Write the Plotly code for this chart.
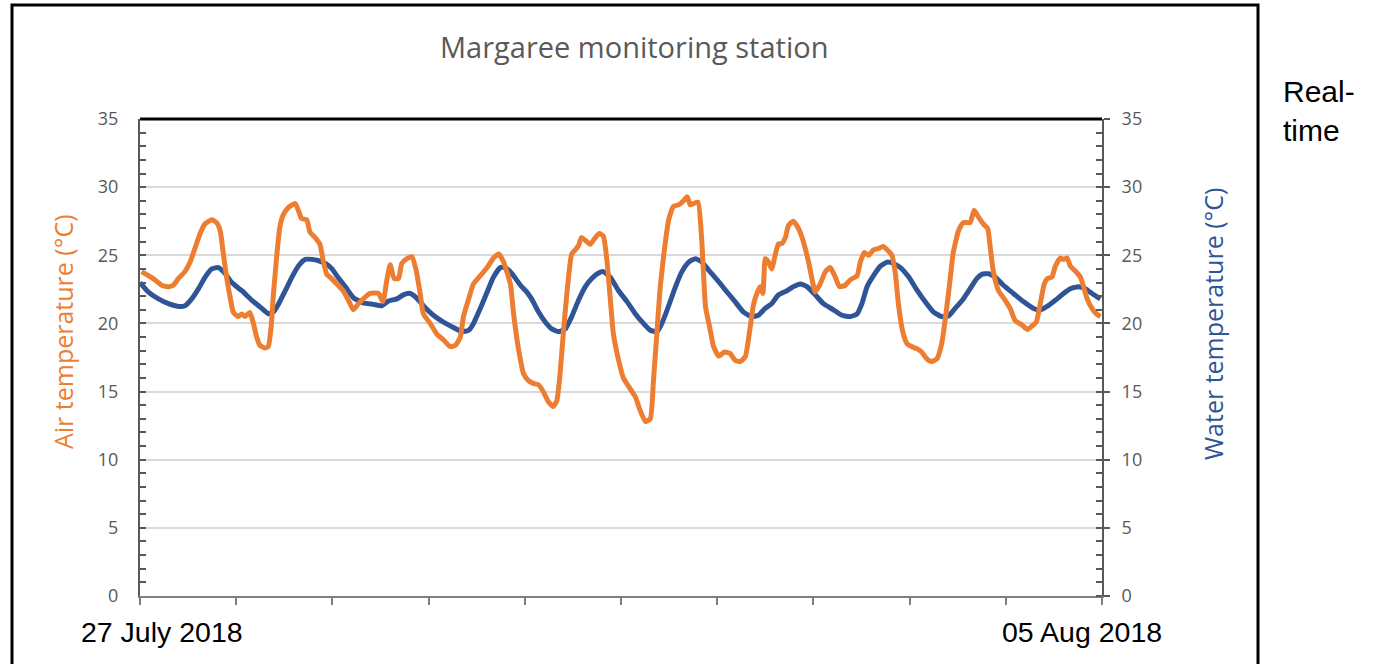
import pandas as pd
import plotly.graph_objects as go

# ---- data (hours since 27 July 2018 00:00, temperature in °C) ----
air_hours = [0.4, 2.1, 3.7, 5.4, 7.1, 8.3, 9.6, 11.2, 12.5, 13.7, 15.0, 16.2, 17.9, 19.1, 20.0, 20.8,
             21.6, 22.5, 23.3, 24.5, 25.4, 26.2, 27.4, 28.3, 29.1, 29.9, 31.2, 32.0, 32.7, 33.3, 34.1,
             34.9, 35.8, 37.0, 38.7, 39.5, 40.3, 41.6, 42.4, 43.7, 44.9, 45.7, 46.6, 47.4, 49.1, 50.7,
             52.0, 53.2, 54.5, 55.7, 57.4, 59.5, 60.6, 61.6, 62.4, 63.4, 64.5, 65.3, 66.6, 67.8, 68.9,
             69.9, 70.7, 72.4, 74.1, 75.7, 77.4, 78.7, 79.9, 80.7, 82.0, 83.2, 84.9, 86.6, 88.2, 89.5,
             90.7, 92.4, 93.2, 94.5, 95.7, 96.9, 98.1, 99.4, 100.6, 101.9, 103.1, 104.0, 104.8, 105.6,
             106.5, 107.7, 108.6, 109.4, 110.1, 111.1, 112.3, 113.6, 114.6, 115.6, 116.5, 117.3, 118.1,
             119.4, 120.6, 122.3, 123.6, 124.8, 126.1, 127.3, 128.1, 129.0, 129.8, 130.9, 131.9, 133.1,
             134.4, 135.6, 136.5, 137.3, 138.1, 139.2, 140.1, 141.1, 142.1, 143.1, 144.4, 145.8, 147.2,
             148.45, 149.7, 151.0, 152.0, 153.0, 153.9, 154.7, 155.4, 156.0, 156.8, 157.6, 158.45,
             159.3, 160.1, 161.0, 161.8, 163.0, 164.3, 165.5, 166.8, 167.9, 168.45, 169.7, 171.0,
             172.2, 173.45, 174.5, 175.95, 177.2, 178.9, 179.7, 180.7, 181.8, 183.0, 184.3, 185.4,
             186.4, 187.6, 188.45, 189.3, 190.4, 191.4, 192.5, 193.8, 195.0, 196.3, 197.5, 198.8,
             200.0, 200.85, 201.9, 202.9, 204.2, 205.4, 207.1, 208.1, 209.2, 210.4, 211.5, 212.1,
             212.9, 214.2, 215.85, 217.1, 218.35, 220.0, 221.4, 222.5, 223.6, 224.6, 225.6, 226.4,
             227.5, 228.35, 229.6, 230.4, 231.3, 232.1, 233.35, 234.6, 235.4, 236.3, 237.5, 238.6, 239.6]
air_temp = [23.8, 23.5, 23.2, 22.8, 22.7, 22.8, 23.3, 23.8, 24.5, 25.5, 26.6, 27.3, 27.6, 27.4, 26.8, 25.1,
            23.4, 21.9, 20.8, 20.5, 20.7, 20.5, 20.8, 20.0, 19.0, 18.4, 18.2, 18.3, 19.7, 22.2, 24.9,
            27.1, 28.0, 28.5, 28.8, 28.3, 27.7, 27.6, 26.7, 26.3, 25.8, 24.6, 23.6, 23.4, 22.9, 22.4,
            21.7, 21.0, 21.45, 21.8, 22.2, 22.2, 21.6, 23.2, 24.3, 23.3, 23.3, 24.4, 24.75, 24.9, 23.9,
            22.2, 20.7, 20.0, 19.2, 18.8, 18.3, 18.4, 19.0, 20.5, 21.8, 22.9, 23.5, 24.1, 24.8, 25.1,
            24.5, 22.9, 20.7, 18.0, 16.3, 15.8, 15.6, 15.5, 15.0, 14.25, 13.9, 14.35, 16.3, 19.25,
            22.2, 25.1, 25.4, 25.7, 26.3, 26.1, 25.8, 26.3, 26.6, 26.4, 24.6, 21.9, 19.25,
            17.3, 16.0, 15.2, 14.6, 13.6, 12.8, 13.0, 15.8, 19.5, 22.7, 25.6, 27.6, 28.6,
            28.7, 29.0, 29.3, 28.7, 28.8, 28.9, 26.3, 21.2, 19.75, 18.3, 17.6, 17.9, 17.8,
            17.3, 17.2, 17.55, 19.25, 21.3, 22.2, 22.7, 22.2, 24.75, 24.5, 24.0, 25.0,
            25.85, 25.85, 26.3, 27.2, 27.5, 26.95, 26.0, 24.5, 22.9, 22.3, 22.9, 23.8,
            24.1, 23.4, 22.7, 22.8, 23.2, 23.5, 24.5, 25.2, 25.0, 25.4, 25.5, 25.65,
            25.4, 25.0, 23.65, 21.2, 19.25, 18.5, 18.3, 18.15, 17.9, 17.4, 17.2, 17.4,
            18.5, 20.2, 22.7, 25.2, 26.8, 27.4, 27.4, 28.3, 27.8, 27.3, 26.95, 25.6,
            23.8, 22.4, 21.7, 21.1, 20.2, 19.9, 19.55, 19.8, 20.1, 21.45, 22.9, 23.3,
            23.4, 24.2, 24.8, 24.7, 24.8, 24.2, 23.85, 23.4, 22.7, 21.8, 21.1, 20.7, 20.5]

water_hours = [0.0, 2.1, 4.6, 7.1, 9.6, 11.25, 12.9, 14.6, 16.25, 17.9, 19.6, 21.25, 22.9, 25.4, 27.9,
               30.0, 32.1, 33.3, 34.6, 36.25, 37.9, 39.6, 41.25, 42.9, 44.6, 46.25, 47.9, 49.1, 51.2,
               53.2, 55.7, 58.2, 60.3, 62.0, 64.1, 65.7, 67.4, 68.9, 70.7, 73.2, 75.7, 78.2, 80.3,
               82.0, 83.2, 84.9, 86.6, 88.2, 89.9, 91.1, 92.8, 94.9, 96.5, 97.7, 99.4, 101.1, 102.7,
               104.4, 106.1, 107.7, 109.4, 111.1, 112.7, 114.4, 115.6, 117.3, 119.4, 121.5, 123.6,
               125.6, 127.3, 129.0, 130.2, 131.9, 133.6, 135.2, 136.9, 138.6, 140.2, 141.9, 144.0,
               145.9, 148.45, 150.5, 152.6, 154.3, 155.95, 157.6, 159.3, 161.4, 163.0, 164.7, 166.4,
               168.45, 170.5, 173.0, 175.1, 177.2, 178.9, 180.1, 181.4, 183.0, 184.7, 186.4, 188.0,
               189.7, 191.8, 193.6, 195.85, 197.9, 200.0, 201.7, 203.35, 205.4, 207.1, 208.8, 210.0,
               211.7, 213.35, 215.4, 217.9, 220.4, 222.9, 224.6, 226.3, 228.35, 230.4, 232.1, 234.2,
               235.85, 237.5, 239.6]
water_temp = [23.0, 22.3, 21.8, 21.45, 21.25, 21.3, 21.8, 22.55, 23.4, 24.0, 24.1, 23.65, 23.0, 22.4, 21.7,
              21.2, 20.7, 20.85, 21.45, 22.4, 23.4, 24.25, 24.7, 24.7, 24.6, 24.4, 24.0, 23.5, 22.7,
              21.9, 21.5, 21.4, 21.3, 21.65, 21.8, 22.1, 22.2, 21.9, 21.3, 20.6, 20.1, 19.7, 19.4,
              19.5, 20.0, 21.1, 22.3, 23.4, 24.1, 24.1, 23.65, 22.8, 22.3, 21.8, 20.85, 20.1, 19.6,
              19.4, 19.6, 20.5, 21.7, 22.7, 23.3, 23.7, 23.8, 23.4, 22.4, 21.6, 20.7,
              20.0, 19.5, 19.4, 20.0, 21.3, 22.7, 23.8, 24.5, 24.75, 24.5, 23.9, 23.2,
              22.5, 21.6, 20.85, 20.5, 20.6, 21.1, 21.45, 22.1, 22.4, 22.7, 22.9, 22.7,
              22.1, 21.45, 21.0, 20.6, 20.5, 20.7, 21.45, 22.7, 23.5, 24.2, 24.5, 24.4,
              24.1, 23.4, 22.55, 21.6, 20.85, 20.5, 20.55, 21.1, 21.8, 22.55, 23.3, 23.6,
              23.65, 23.4, 22.8, 22.2, 21.6, 21.1, 21.0, 21.25, 21.7, 22.2, 22.55, 22.7,
              22.55, 22.2, 21.8]

start_date = "2018-07-27"
end_date = "2018-08-06"
title_text = "Margaree monitoring station"
air_title = "Air temperature (°C)"
water_title = "Water temperature (°C)"
start_label = "27 July 2018"
end_label = "05 Aug 2018"
side_note = "Real-<br>time"

ORANGE = "#ED7D31"
BLUE = "#2F5597"
GRAY = "#595959"

t0 = pd.Timestamp(start_date)
air_x = t0 + pd.to_timedelta(air_hours, unit="h")
water_x = t0 + pd.to_timedelta(water_hours, unit="h")

fig = go.Figure()
fig.add_trace(go.Scatter(x=water_x, y=water_temp, mode="lines", yaxis="y",
                         line=dict(color=BLUE, width=5, shape="spline", smoothing=0.5),
                         name="Water", showlegend=False, hoverinfo="skip"))
fig.add_trace(go.Scatter(x=air_x, y=air_temp, mode="lines", yaxis="y2",
                         line=dict(color=ORANGE, width=5, shape="spline", smoothing=0.5),
                         name="Air", showlegend=False, hoverinfo="skip"))

W, H = 1374, 664
PL, PR, PT, PB = 140, 1102, 119, 596   # plot area in screen pixels
L, T, R, B = PL, PT, W - PR, H - PB
pw, ph = PR - PL, PB - PT


def px(x):
    return (x - PL) / pw


def py(y):
    return (PB - y) / ph


tickfont = dict(family="Open Sans", size=18, color=GRAY)

fig.update_layout(
    width=W, height=H,
    margin=dict(l=L, r=R, t=T, b=B),
    paper_bgcolor="white", plot_bgcolor="white",
    showlegend=False,
    xaxis=dict(type="date", range=[start_date, end_date], showgrid=False, zeroline=False,
               showline=True, linecolor="#7f7f7f", linewidth=2,
               ticks="outside", ticklen=7, tickwidth=1.5, tickcolor="#7f7f7f",
               tick0=start_date, dtick=86400000, showticklabels=False),
    yaxis=dict(range=[0, 35], side="right", showgrid=True, gridcolor="#d9d9d9", gridwidth=1.5,
               zeroline=False, dtick=5, tick0=0, showline=True, linecolor=GRAY, linewidth=2,
               ticks="outside", ticklen=6, tickwidth=1.5, tickcolor=GRAY,
               minor=dict(dtick=1, ticks="inside", ticklen=6, tickwidth=1.5, tickcolor=GRAY, showgrid=False),
               tickfont=tickfont, ticklabelstandoff=8),
    yaxis2=dict(range=[0, 35], side="left", overlaying="y", showgrid=False, zeroline=False,
                dtick=5, tick0=0, showline=True, linecolor=GRAY, linewidth=2,
                ticks="inside", ticklen=6, tickwidth=1.5, tickcolor=GRAY,
                minor=dict(dtick=1, ticks="inside", ticklen=6, tickwidth=1.5, tickcolor=GRAY, showgrid=False),
                tickfont=tickfont, ticklabelstandoff=16),
)

# outer frame and top edge of plot area
fig.add_shape(type="rect", xref="paper", yref="paper",
              x0=px(12), x1=px(1258), y0=py(700), y1=py(5),
              line=dict(color="black", width=3), layer="above")
fig.add_shape(type="line", xref="paper", yref="paper", x0=0, x1=1, y0=1, y1=1,
              line=dict(color="black", width=3), layer="above")

ann = [
    dict(text=title_text, x=px(634), y=py(46), font=dict(family="Open Sans", size=29, color=GRAY),
         xanchor="center", yanchor="middle"),
    dict(text=air_title, x=px(63), y=py(332), textangle=-90,
         font=dict(family="Open Sans", size=25, color=ORANGE), xanchor="center", yanchor="middle"),
    dict(text=water_title, x=px(1213), y=py(324), textangle=-90,
         font=dict(family="Open Sans", size=25, color=BLUE), xanchor="center", yanchor="middle"),
    dict(text=start_label, x=px(79), y=py(632), font=dict(family="Liberation Sans", size=28.5, color="black"),
         xanchor="left", yanchor="middle"),
    dict(text=end_label, x=px(1164), y=py(632), font=dict(family="Liberation Sans", size=28.5, color="black"),
         xanchor="right", yanchor="middle"),
    dict(text=side_note, x=px(1281), y=py(111), font=dict(family="Liberation Sans", size=30, color="black"),
         xanchor="left", yanchor="middle", align="left"),
]
for a in ann:
    fig.add_annotation(xref="paper", yref="paper", showarrow=False, **a)

# remove the browser's default page margin so the figure sits at the window origin
fig.write_html("out.html", config={"displayModeBar": False},
               post_script="document.body.style.margin='0';document.body.style.overflow='hidden';")
